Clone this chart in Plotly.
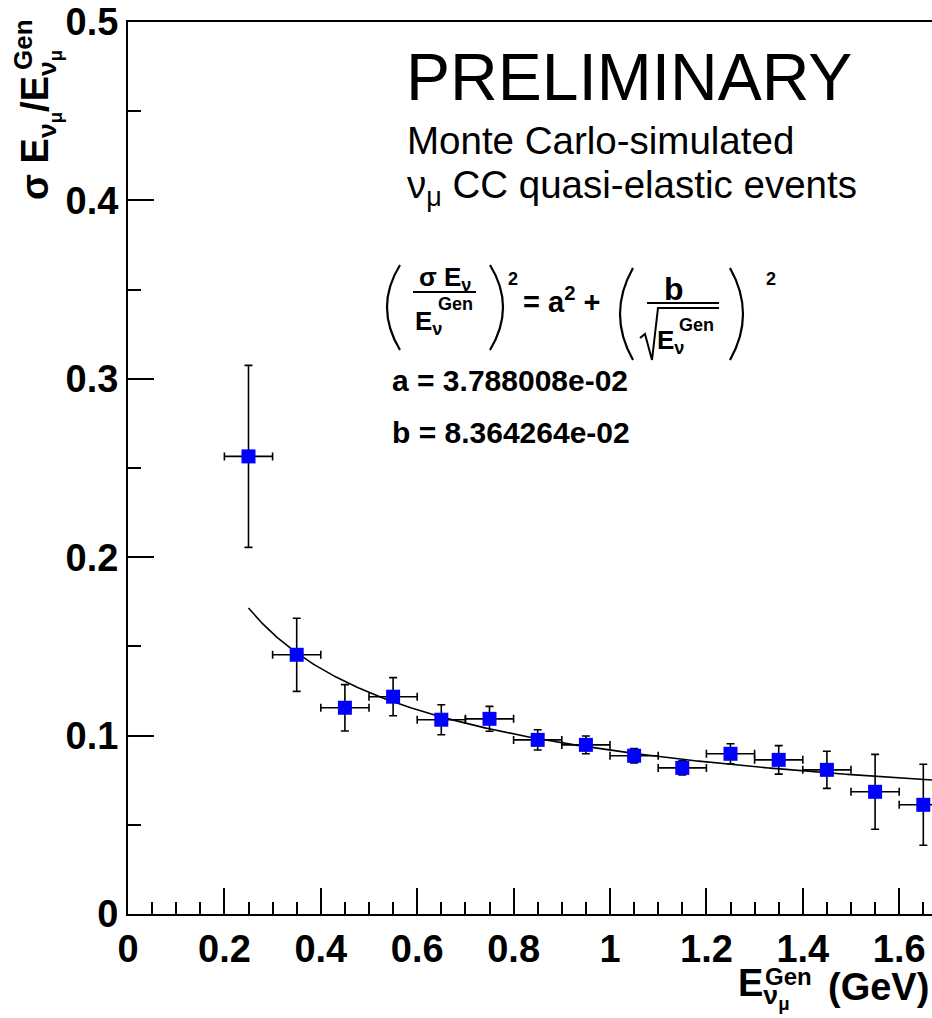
import numpy as np
import plotly.graph_objects as go

# ---------------- data ----------------
E_gen = [0.25, 0.35, 0.45, 0.55, 0.65, 0.75, 0.85, 0.95, 1.05, 1.15, 1.25, 1.35, 1.45, 1.55, 1.65]
resolution = [0.2565, 0.1453, 0.1156, 0.1218, 0.1089, 0.1094, 0.0976, 0.0948, 0.0887, 0.0819,
              0.0898, 0.0864, 0.0808, 0.0685, 0.0612]
resolution_err = [0.051, 0.0205, 0.013, 0.0107, 0.0084, 0.007, 0.0057, 0.005, 0.004, 0.004,
                  0.0056, 0.008, 0.0104, 0.021, 0.0227]
bin_half_width = [0.05] * 15

fit_a = 3.788008e-02
fit_b = 8.364264e-02
fit_x_min = 0.25
fit_x_max = 1.70

x_tick_vals = [0, 0.2, 0.4, 0.6, 0.8, 1.0, 1.2, 1.4, 1.6]
x_tick_text = ["0", "0.2", "0.4", "0.6", "0.8", "1", "1.2", "1.4", "1.6"]
y_tick_vals = [0, 0.1, 0.2, 0.3, 0.4, 0.5]
y_tick_text = ["0", "0.1", "0.2", "0.3", "0.4", "0.5"]

# ---------------- layout geometry ----------------
W, H = 932, 1018
L, R, T, B = 128, 0, 22, 104
PW, PH = W - L - R, H - T - B
X_MAX = (W - L) / 482.0


def px(x):
    return (x - L) / PW


def py(y):
    return (H - B - y) / PH


FONT = "Liberation Sans"

fit_x = np.linspace(fit_x_min, fit_x_max, 400)
fit_y = np.sqrt(fit_a ** 2 + fit_b ** 2 / fit_x)

fig = go.Figure()
fig.add_trace(go.Scatter(
    x=fit_x, y=fit_y, mode="lines",
    line=dict(color="black", width=1.6), hoverinfo="skip", showlegend=False))
fig.add_trace(go.Scatter(
    x=E_gen, y=resolution, mode="markers",
    marker=dict(symbol="square", size=14, color="#0000ff", line=dict(width=0)),
    error_y=dict(type="data", array=resolution_err, color="black", thickness=1.6, width=4),
    error_x=dict(type="data", array=bin_half_width, color="black", thickness=1.6, width=4),
    showlegend=False))

bold = dict(family=FONT, size=38, color="black", weight="bold")

fig.update_layout(
    width=W, height=H,
    margin=dict(l=L, r=R, t=T, b=B, pad=0),
    paper_bgcolor="white", plot_bgcolor="white",
    xaxis=dict(range=[0, X_MAX], showgrid=False, zeroline=False,
               showline=True, linecolor="black", linewidth=2, mirror=True,
               ticks="inside", ticklen=26, tickwidth=1.6, tickcolor="black",
               tickvals=x_tick_vals, ticktext=x_tick_text, tickfont=bold,
               minor=dict(dtick=0.05, tick0=0, ticks="inside", ticklen=12,
                          tickwidth=1.6, tickcolor="black", showgrid=False)),
    yaxis=dict(range=[0, 0.5], showgrid=False, zeroline=False,
               showline=True, linecolor="black", linewidth=2, mirror=False,
               ticks="inside", ticklen=26, tickwidth=1.6, tickcolor="black",
               tickvals=y_tick_vals, ticktext=y_tick_text, tickfont=bold,
               minor=dict(dtick=0.05, tick0=0, ticks="inside", ticklen=13,
                          tickwidth=1.6, tickcolor="black", showgrid=False)),
)

ann = []


def text(t, x, y, size, xanchor="left", yanchor="middle", weight="normal", angle=0):
    ann.append(dict(text=t, x=px(x), y=py(y), xref="paper", yref="paper",
                    xanchor=xanchor, yanchor=yanchor, showarrow=False, textangle=angle,
                    font=dict(family=FONT, size=size, color="black", weight=weight)))


# header texts
text("PRELIMINARY", 404, 77, 66)
text("Monte Carlo-simulated", 405, 140, 38.5)
text("ν<sub>μ</sub> CC quasi-elastic events", 405, 188, 38.5)

# fit parameters
text("a = 3.788008e-02", 390, 380, 30, weight="bold")
text("b = 8.364264e-02", 390, 432, 30, weight="bold")

# formula pieces
text("σ E<sub>ν</sub>", 445, 278, 26, xanchor="center", weight="bold")
text("E<sub>ν</sub>", 413, 322, 26, weight="bold")
text("Gen", 436, 304, 18, weight="bold")
text("2", 506, 279, 18, weight="bold")
text("= a<sup>2</sup> +", 521, 300, 29, weight="bold")
text("b", 674, 289, 32, xanchor="center", weight="bold")
text("E<sub>ν</sub>", 655, 341, 26, weight="bold")
text("Gen", 677, 325, 18, weight="bold")
text("2", 764, 279, 18, weight="bold")

# axis titles
text("E<sub>ν<sub>μ</sub></sub>", 736, 988, 38, weight="bold")
text("Gen", 763, 977, 24, weight="bold")
text("(GeV)", 931, 987, 38, xanchor="right", weight="bold")
text("σ E<sub>ν<sub>μ</sub></sub>/E<sub>ν<sub>μ</sub></sub>", 40, 202, 38, xanchor="center",
     yanchor="bottom", weight="bold", angle=-90)
text("Gen", 23, 45, 26, xanchor="center", weight="bold", angle=-90)

fig.update_layout(annotations=ann)


def path(points, curve=False):
    if curve:
        (x0, y0), (xc, yc), (x1, y1) = points
        return "M {} {} Q {} {} {} {}".format(px(x0), py(y0), px(xc), py(yc), px(x1), py(y1))
    s = "M {} {}".format(px(points[0][0]), py(points[0][1]))
    for xx, yy in points[1:]:
        s += " L {} {}".format(px(xx), py(yy))
    return s


shapes = []
line_style = dict(color="black", width=2.2)
for pts in [[(400, 265), (374, 307), (400, 350)],
            [(490, 265), (516, 307), (490, 350)],
            [(633, 268), (607, 314), (633, 360)],
            [(730, 268), (756, 314), (730, 360)]]:
    shapes.append(dict(type="path", xref="paper", yref="paper", path=path(pts, True),
                       line=line_style))
# fraction lines
shapes.append(dict(type="path", xref="paper", yref="paper",
                   path=path([(413, 292), (476, 292)]), line=dict(color="black", width=2)))
shapes.append(dict(type="path", xref="paper", yref="paper",
                   path=path([(647, 303), (719, 303)]), line=dict(color="black", width=2)))
# square root sign
shapes.append(dict(type="path", xref="paper", yref="paper",
                   path=path([(640, 338), (645, 334), (652, 360), (658, 308), (719, 308)]),
                   line=dict(color="black", width=2)))
fig.update_layout(shapes=shapes)

fig.write_html("out.html")
